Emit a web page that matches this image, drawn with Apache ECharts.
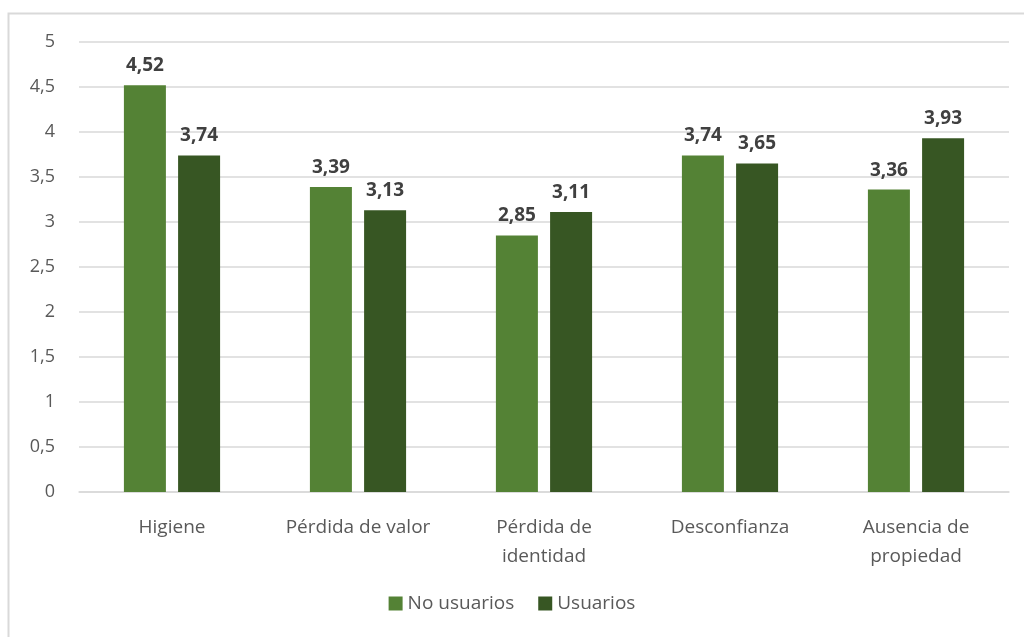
<!DOCTYPE html>
<html>
<head>
<meta charset="utf-8">
<script src="https://cdn.jsdelivr.net/npm/echarts@6/dist/echarts.min.js"></script>
<style>
  html, body { margin: 0; padding: 0; background: #fff; }
  #chart { width: 1024px; height: 637px; }
</style>
</head>
<body>
<div id="chart"></div>
<script>
  // datos
  var categorias = ['Higiene', 'Pérdida de valor', 'Pérdida de\nidentidad', 'Desconfianza', 'Ausencia de\npropiedad']
  var noUsuarios = [4.52, 3.39, 2.85, 3.74, 3.36]
  var usuarios = [3.74, 3.13, 3.11, 3.65, 3.93]
  var nombres = ['No usuarios', 'Usuarios']

  var fuente = '"Open Sans", Lato, sans-serif'

  function coma (v) {
    return String(v).replace('.', ',')
  }

  var etiqueta = {
    show: true,
    position: 'top',
    distance: 10,
    color: '#404040',
    fontWeight: 'bold',
    fontSize: 19,
    fontFamily: fuente,
    formatter: function (p) { return p.value.toFixed(2).replace('.', ',') }
  }

  var option = {
    backgroundColor: '#fff',
    animation: false,
    graphic: [
      {
        type: 'polyline',
        shape: { points: [[8.5, 637], [8.5, 13.5], [1024, 13.5]] },
        style: { stroke: '#d9d9d9', lineWidth: 2, fill: null }
      }
    ],
    legend: {
      data: nombres,
      bottom: 19,
      left: 'center',
      itemWidth: 14,
      itemHeight: 14,
      itemGap: 24,
      icon: 'rect',
      textStyle: { color: '#595959', fontSize: 19, fontFamily: fuente }
    },
    grid: {
      left: 79,
      right: 15,
      top: 42,
      height: 450
    },
    xAxis: {
      type: 'category',
      data: categorias,
      axisTick: { show: false },
      axisLine: { lineStyle: { color: '#d9d9d9', width: 1.5 } },
      axisLabel: {
        color: '#595959',
        fontSize: 19,
        fontFamily: fuente,
        lineHeight: 29,
        margin: 21,
        interval: 0
      }
    },
    yAxis: {
      type: 'value',
      min: 0,
      max: 5,
      interval: 0.5,
      axisLine: { show: false },
      axisTick: { show: false },
      splitLine: { lineStyle: { color: '#d9d9d9', width: 1.5 } },
      axisLabel: {
        color: '#595959',
        fontSize: 18,
        fontFamily: fuente,
        margin: 24,
        formatter: coma
      }
    },
    series: [
      {
        name: nombres[0],
        type: 'bar',
        data: noUsuarios,
        barWidth: 42,
        barGap: '29%',
        itemStyle: { color: '#548235' },
        label: etiqueta
      },
      {
        name: nombres[1],
        type: 'bar',
        data: usuarios,
        barWidth: 42,
        itemStyle: { color: '#375623' },
        label: etiqueta
      }
    ]
  }

  var chart = echarts.init(document.getElementById('chart'))
  chart.setOption(option)
</script>
</body>
</html>
